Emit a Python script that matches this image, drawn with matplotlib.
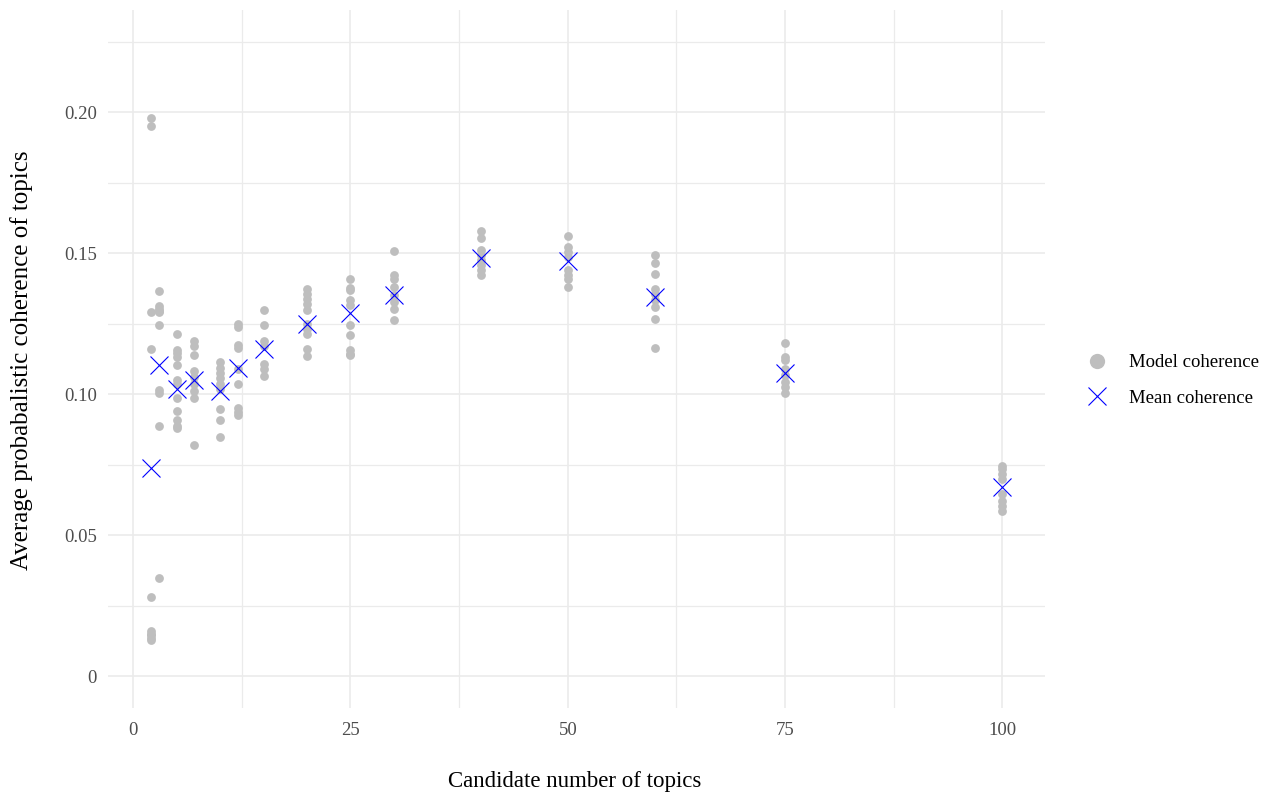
import matplotlib.pyplot as plt
from matplotlib.lines import Line2D

# candidate numbers of topics
topics = [2, 3, 5, 7, 10, 12, 15, 20, 25, 30, 40, 50, 60, 75, 100]

# coherence of each fitted model, read per candidate number
coh_k2 = [0.198, 0.195, 0.129, 0.116, 0.028, 0.016, 0.015, 0.0145, 0.0135, 0.0128]
coh_k3 = [0.1366, 0.1312, 0.1303, 0.1295, 0.1290, 0.1244, 0.1015, 0.1005, 0.0888, 0.0349]
coh_k5 = [0.1212, 0.1157, 0.1145, 0.1132, 0.1103, 0.1050, 0.1037, 0.0987, 0.0942, 0.0910, 0.0888, 0.0879]
coh_k7 = [0.1189, 0.1170, 0.1139, 0.1081, 0.1062, 0.1037, 0.1012, 0.0987, 0.0819]
coh_k10 = [0.1113, 0.1094, 0.1075, 0.1056, 0.1037, 0.1018, 0.0948, 0.0910, 0.0847]
coh_k12 = [0.1250, 0.1237, 0.1176, 0.1164, 0.1088, 0.1037, 0.0951, 0.0936, 0.0926]
coh_k15 = [0.1297, 0.1244, 0.1189, 0.1170, 0.1107, 0.1088, 0.1065]
coh_k20 = [0.1375, 0.1357, 0.1339, 0.1319, 0.1300, 0.1250, 0.1232, 0.1215, 0.1161, 0.1134]
coh_k25 = [0.1410, 0.1378, 0.1369, 0.1333, 0.1316, 0.1244, 0.1209, 0.1158, 0.1143, 0.1138]
coh_k30 = [0.1509, 0.1422, 0.1410, 0.1381, 0.1351, 0.1327, 0.1304, 0.1262]
coh_k40 = [0.1580, 0.1553, 0.1511, 0.1494, 0.1476, 0.1458, 0.1440, 0.1422]
coh_k50 = [0.1561, 0.1523, 0.1505, 0.1488, 0.1440, 0.1422, 0.1410, 0.1381]
coh_k60 = [0.1494, 0.1464, 0.1428, 0.1375, 0.1357, 0.1333, 0.1310, 0.1268, 0.1165]
coh_k75 = [0.1183, 0.1132, 0.1120, 0.1090, 0.1067, 0.1043, 0.1025, 0.1004]
coh_k100 = [0.0746, 0.0734, 0.0716, 0.0699, 0.0645, 0.0622, 0.0604, 0.0586]

model_coherence = [coh_k2, coh_k3, coh_k5, coh_k7, coh_k10, coh_k12, coh_k15, coh_k20,
                   coh_k25, coh_k30, coh_k40, coh_k50, coh_k60, coh_k75, coh_k100]

# mean coherence per candidate number (blue crosses)
mean_coherence = [0.0737, 0.1103, 0.1018, 0.1052, 0.1012, 0.1094, 0.1160, 0.1250,
                  0.1289, 0.1351, 0.1484, 0.1472, 0.1345, 0.1075, 0.0672]

x_ticks = [0, 25, 50, 75, 100]
y_ticks = [0, 0.05, 0.10, 0.15, 0.20]
y_tick_labels = ['0', '0.05', '0.10', '0.15', '0.20']

plt.rcParams['font.family'] = ['Liberation Serif', 'DejaVu Serif']

fig = plt.figure(figsize=(12.63, 7.94), dpi=100)
ax = fig.add_axes([0.0855, 0.1083, 0.7419, 0.8791])

point_color = '#BEBEBE'
for k, vals in zip(topics, model_coherence):
    ax.scatter([k] * len(vals), vals, s=40, color=point_color, linewidths=0, zorder=3)

ax.plot(topics, mean_coherence, linestyle='none', marker='x', markersize=13.5,
        markeredgewidth=0.8, color='#0000FF', zorder=4)

ax.set_xlim(-2.9, 104.9)
ax.set_ylim(-0.01125, 0.23625)
ax.set_xticks(x_ticks)
ax.set_yticks(y_ticks)
ax.set_yticklabels(y_tick_labels)
ax.set_xticks([12.5, 37.5, 62.5, 87.5], minor=True)
ax.set_yticks([0.025, 0.075, 0.125, 0.175, 0.225], minor=True)

ax.grid(True, which='major', color='#EBEBEB', linewidth=1.2, zorder=0)
ax.grid(True, which='minor', color='#EBEBEB', linewidth=0.9, zorder=0)
ax.set_axisbelow(True)
for spine in ax.spines.values():
    spine.set_visible(False)
ax.tick_params(which='both', length=0, labelsize=13.5, labelcolor='#4D4D4D')
ax.tick_params(axis='x', pad=10)
ax.tick_params(axis='y', pad=8)

ax.set_xlabel('Candidate number of topics', fontsize=16.5, color='black')
ax.xaxis.set_label_coords(0.4985, -0.1046)
ax.xaxis.label.set_va('center')
ax.set_ylabel('Average probabalistic coherence of topics', fontsize=18, color='black')
ax.yaxis.set_label_coords(-0.0918, 0.4986)
ax.yaxis.label.set_va('center')

handles = [
    Line2D([], [], linestyle='none', marker='o', markersize=11, color=point_color,
           markeredgewidth=0),
    Line2D([], [], linestyle='none', marker='x', markersize=13.5, color='#0000FF',
           markeredgewidth=0.8),
]
fig.legend(handles, ['Model coherence', 'Mean coherence'], loc='center left',
           bbox_to_anchor=(0.861, 0.5208), frameon=False, fontsize=13.5,
           handlelength=1.0, handletextpad=1.19, labelspacing=0.96, borderpad=0,
           borderaxespad=0)

fig.savefig('out.png', dpi=100)
